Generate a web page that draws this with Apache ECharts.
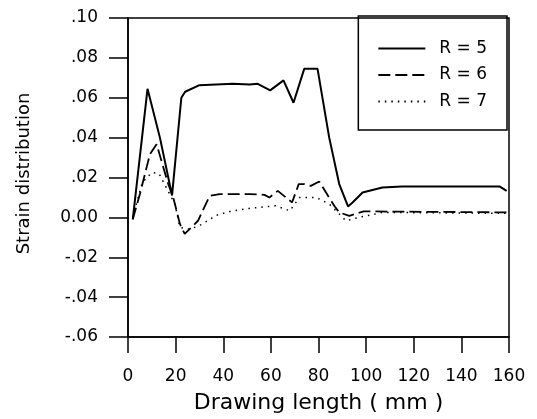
<!DOCTYPE html>
<html>
<head>
<meta charset="utf-8">
<script src="https://cdn.jsdelivr.net/npm/echarts@6/dist/echarts.min.js"></script>
<style>html,body{margin:0;padding:0;background:#fff;}#chart{width:537px;height:419px;}</style>
</head>
<body>
<div id="chart"></div>
<script>
// Data
const seriesNames = ['R = 5', 'R = 6', 'R = 7'];
const r5X = [2, 8.2, 13.4, 18.5, 22.4, 24, 30, 44, 51, 54.5, 59.7, 65.3, 69.5, 74, 79.6, 84.5, 88.7, 92.4, 94.3, 98.5, 106.8, 115, 140, 156, 159];
const r5Y = [-0.001, 0.0645, 0.040, 0.011, 0.060, 0.063, 0.0663, 0.067, 0.0667, 0.067, 0.0637, 0.0687, 0.0575, 0.0745, 0.0745, 0.040, 0.0167, 0.0055, 0.0075, 0.0125, 0.015, 0.0155, 0.0155, 0.0155, 0.0133];
const r6X = [2, 5, 9.2, 12, 16.9, 19, 21.8, 23.8, 29.4, 34.3, 38.5, 51, 57.3, 59.4, 62.9, 68.9, 71.7, 74, 76.8, 80.3, 86.6, 88.7, 92.9, 99, 160];
const r6Y = [-0.001, 0.0117, 0.0317, 0.0367, 0.0167, 0.010, -0.0033, -0.0083, -0.0017, 0.0108, 0.0117, 0.0117, 0.0113, 0.010, 0.0133, 0.0075, 0.0167, 0.0167, 0.0158, 0.018, 0.0058, 0.0025, 0.0008, 0.003, 0.0025];
const r7X = [2, 6, 10, 13, 19.7, 21.8, 26, 31, 37, 43, 51, 62, 68, 72, 79, 84.5, 88.7, 91.5, 97, 107, 160];
const r7Y = [0, 0.0175, 0.0225, 0.022, 0.0067, -0.005, -0.006, -0.0035, 0.001, 0.003, 0.0045, 0.0058, 0.0033, 0.010, 0.010, 0.0067, 0.0017, -0.0017, 0, 0.0025, 0.002];
const yTickLabels = {'-6': '-.06', '-4': '-.04', '-2': '-.02', '0': '0.00', '2': '.02', '4': '.04', '6': '.06', '8': '.08', '10': '.10'};

function zip(xs, ys) { return xs.map((x, i) => [x, ys[i]]); }

const FONT = 'DejaVu Sans';
const chart = echarts.init(document.getElementById('chart'), null, {renderer: 'canvas'});
chart.setOption({
  animation: false,
  backgroundColor: '#fff',
  grid: {left: 128, right: 28, top: 18, bottom: 79, show: true, borderColor: '#000', borderWidth: 1.5, backgroundColor: 'transparent'},
  legend: {
    orient: 'vertical', right: 30, top: 16,
    borderColor: '#000', borderWidth: 1.5,
    padding: [24, 20, 20, 19],
    itemWidth: 47, itemHeight: 14, itemGap: 9.5,
    itemStyle: {opacity: 0, color: 'transparent', borderWidth: 0},
    textStyle: {fontFamily: FONT, fontSize: 17, color: '#000', padding: [0, 0, 0, 9]},
    data: seriesNames
  },
  xAxis: {
    type: 'value', min: 0, max: 160, interval: 20,
    name: 'Drawing length ( mm )', nameLocation: 'middle', nameGap: 55,
    nameTextStyle: {fontFamily: FONT, fontSize: 22, color: '#000'},
    axisLine: {onZero: false, lineStyle: {color: '#000', width: 1.5}},
    axisTick: {inside: false, length: 16, lineStyle: {color: '#000', width: 1.5}},
    axisLabel: {margin: 31, fontFamily: FONT, fontSize: 17, color: '#000'},
    splitLine: {show: false}
  },
  yAxis: {
    type: 'value', min: -0.06, max: 0.10, interval: 0.02,
    name: 'Strain distribution', nameLocation: 'middle', nameGap: 95,
    nameTextStyle: {fontFamily: FONT, fontSize: 18, color: '#000', padding: [0, 0, 0, 8]},
    axisLine: {onZero: false, lineStyle: {color: '#000', width: 1.5}},
    axisTick: {inside: false, length: 19, lineStyle: {color: '#000', width: 1.5}},
    axisLabel: {margin: 30, fontFamily: FONT, fontSize: 17, color: '#000',
      formatter: v => yTickLabels[String(Math.round(v * 100))] || ''},
    splitLine: {show: false}
  },
  series: [
    {name: seriesNames[0], type: 'line', data: zip(r5X, r5Y), symbol: 'none', smooth: false,
     lineStyle: {color: '#000', width: 2, type: 'solid'}, itemStyle: {color: '#000'}},
    {name: seriesNames[1], type: 'line', data: zip(r6X, r6Y), symbol: 'none',
     lineStyle: {color: '#000', width: 1.8, type: [12, 5]}, itemStyle: {color: '#000'}},
    {name: seriesNames[2], type: 'line', data: zip(r7X, r7Y), symbol: 'none',
     lineStyle: {color: '#000', width: 1.5, type: [1.5, 5]}, itemStyle: {color: '#000'}}
  ]
});
</script>
</body>
</html>
